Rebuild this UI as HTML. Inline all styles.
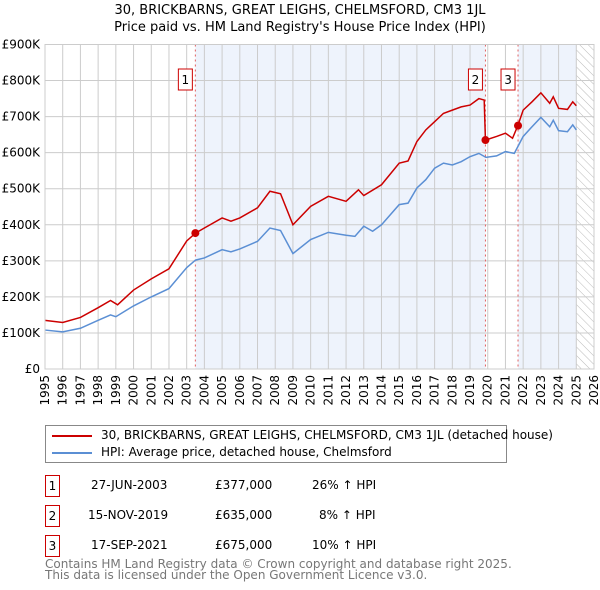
<!DOCTYPE html>
<html><head><meta charset="utf-8"><style>
body{margin:0;background:#fff;font-family:"DejaVu Sans","Liberation Sans",sans-serif;}
#wrap{position:relative;width:600px;height:590px;overflow:hidden;}
.t{position:absolute;font-size:12px;color:#000;white-space:nowrap;}
.box{position:absolute;border:1px solid #c00;width:13px;height:20px;text-align:center;line-height:20px;font-size:12px;}
</style></head><body><div id="wrap">
<div class="t" style="left:0;width:600px;text-align:center;top:3px;font-size:13px">30, BRICKBARNS, GREAT LEIGHS, CHELMSFORD, CM3 1JL</div>
<div class="t" style="left:0;width:600px;text-align:center;top:20px;font-size:13px">Price paid vs. HM Land Registry's House Price Index (HPI)</div>
<svg id="s" width="600" height="420" style="position:absolute;left:0;top:0"></svg>
<div style="position:absolute;left:45px;top:425px;width:460px;height:36px;border:1px solid #888;">
<div style="position:absolute;left:6px;top:9px;width:40px;height:2px;background:#c00"></div>
<div class="t" style="left:55px;top:2px">30, BRICKBARNS, GREAT LEIGHS, CHELMSFORD, CM3 1JL (detached house)</div>
<div style="position:absolute;left:6px;top:26px;width:40px;height:2px;background:#5b8fd4"></div>
<div class="t" style="left:55px;top:19px">HPI: Average price, detached house, Chelmsford</div>
</div>
<div>
<div class="box" style="left:45px;top:475px">1</div><div class="t" style="left:91px;top:478px">27-JUN-2003</div><div class="t" style="left:215px;top:478px">£377,000</div><div class="t" style="left:312px;top:478px">26% ↑ HPI</div>
<div class="box" style="left:45px;top:505px">2</div><div class="t" style="left:88px;top:508px">15-NOV-2019</div><div class="t" style="left:215px;top:508px">£635,000</div><div class="t" style="left:319px;top:508px">8% ↑ HPI</div>
<div class="box" style="left:45px;top:535px">3</div><div class="t" style="left:91px;top:538px">17-SEP-2021</div><div class="t" style="left:215px;top:538px">£675,000</div><div class="t" style="left:312px;top:538px">10% ↑ HPI</div>
</div>
<div class="t" style="left:45px;top:559px;color:#777;line-height:11px">Contains HM Land Registry data © Crown copyright and database right 2025.<br>This data is licensed under the Open Government Licence v3.0.</div>
</div>
<script>
const hpiX=[1995,1996,1997,1998,1998.7,1999,2000,2001,2002,2003,2003.5,2004,2005,2005.5,2006,2007,2007.7,2008.3,2009,2010,2011,2012,2012.5,2013,2013.5,2014,2015,2015.5,2016,2016.5,2017,2017.5,2018,2018.5,2019,2019.5,2019.9,2020.5,2021,2021.5,2022,2022.5,2023,2023.5,2023.7,2024,2024.5,2024.8,2025];
const hpiV=[108,103,113,135,150,145,175,200,223,281,302,308,331,325,333,354,391,384,320,359,379,371,368,396,382,400,456,460,502,525,557,571,566,575,589,598,587,591,603,598,645,672,698,672,690,661,658,677,663];
const redX=[1995,1996,1997,1998,1998.7,1999.1,2000,2001,2002,2003,2003.5,2004,2005,2005.5,2006,2007,2007.7,2008.3,2009,2010,2011,2012,2012.7,2013,2014,2015,2015.5,2016,2016.5,2017,2017.5,2018,2018.5,2019,2019.5,2019.8,2019.87,2020.5,2021,2021.4,2021.7,2022,2022.5,2023,2023.5,2023.7,2024,2024.5,2024.8,2025];
const redV=[135,129,143,170,190,178,219,250,278,355,377,391,419,410,419,447,493,486,400,451,479,465,497,481,511,571,577,631,663,686,709,718,727,732,750,746,635,645,654,640,675,718,741,766,737,755,723,720,741,730];
const saleX=[2003.49,2019.87,2021.71];
const saleV=[377,635,675];
const saleLabels=["1","2","3"];
const yTicks=[0,100,200,300,400,500,600,700,800,900];
const yTickLabels=["£0","£100K","£200K","£300K","£400K","£500K","£600K","£700K","£800K","£900K"];
const X0=45,X1=594,Y0=369,Y1=44.5;
const sx=t=>X0+(t-1995)*(X1-X0)/31;
const sy=v=>Y0-v*(Y0-Y1)/900;
const s=document.getElementById('s');const NS='http://www.w3.org/2000/svg';
function mk(tag,a,p){const e=document.createElementNS(NS,tag);for(const k in a)e.setAttribute(k,a[k]);(p||s).appendChild(e);return e;}
const defs=mk('defs',{});
const pat=mk('pattern',{id:'h',width:6,height:6,patternUnits:'userSpaceOnUse',patternTransform:'rotate(-45)'},defs);
mk('line',{x1:0,y1:0,x2:0,y2:6,stroke:'#bbb','stroke-width':1},pat);
let r=mk('rect',{x:sx(saleX[0]),y:Y1,width:sx(saleX[1])-sx(saleX[0]),height:Y0-Y1,fill:'#eef3fc'});

r=mk('rect',{x:sx(saleX[2]),y:Y1,width:sx(2025)-sx(saleX[2]),height:Y0-Y1,fill:'#eef3fc'});

r=mk('rect',{x:sx(2025),y:Y1,width:X1-sx(2025),height:Y0-Y1,fill:'url(#h)'});

for(let y=1995;y<=2026;y++){const l=mk('line',{x1:sx(y),x2:sx(y),y1:Y1,y2:Y0,stroke:'#ccc'});

const t=mk('text',{x:0,y:0,transform:`translate(${sx(y)+4},${Y0+6}) rotate(-90)`,'text-anchor':'end','font-size':12,'font-family':'DejaVu Sans, sans-serif'});
t.textContent=y;}
yTicks.forEach((v,i)=>{const l=mk('line',{x1:X0,x2:X1,y1:sy(v),y2:sy(v),stroke:'#ccc'});

const t=mk('text',{x:40,y:sy(v)+4,'text-anchor':'end','font-size':12,'font-family':'DejaVu Sans, sans-serif'});
t.textContent=yTickLabels[i];});
saleX.forEach((x,i)=>{const l=mk('line',{x1:sx(x),x2:sx(x),y1:Y1,y2:Y0,stroke:'#e06060','stroke-dasharray':'2,3'});
});
function path(X,V,c,n){const p=mk('polyline',{points:X.map((x,i)=>sx(x)+','+sy(V[i])).join(' '),fill:'none',stroke:c,'stroke-width':1.5});
}
path(hpiX,hpiV,'#5b8fd4','hpi-line');
path(redX,redV,'#cc0000','price-line');
saleX.forEach((x,i)=>{const c=mk('circle',{cx:sx(x),cy:sy(saleV[i]),r:4,fill:'#cc0000'});

const b=mk('rect',{x:sx(x)-17,y:69,width:14,height:21,fill:'#fff',stroke:'#c00'});

const t=mk('text',{x:sx(x)-10,y:84,'text-anchor':'middle','font-size':12,'font-family':'DejaVu Sans, sans-serif'});
t.textContent=saleLabels[i];});
const a=mk('rect',{x:X0,y:Y1,width:X1-X0,height:Y0-Y1,fill:'none',stroke:'#ccc'});

</script></body></html>
